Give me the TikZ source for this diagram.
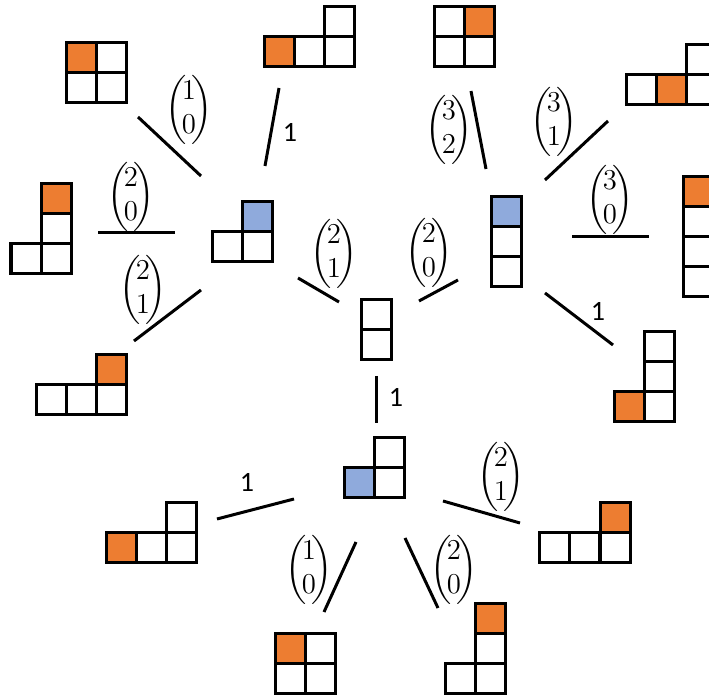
\documentclass[tikz,border=0pt]{standalone}
\usepackage{amsmath}
\usepackage{fontspec}
\newfontfamily\onefont{Carlito}
\definecolor{cellorange}{HTML}{ED7D31}
\definecolor{cellblue}{HTML}{8FAADC}

% one square of a shape, given by its top left corner
\newcommand{\sqcell}[3][white]{\draw[cell,fill=#1] (#2,#3) rectangle ++(30,30);}
% a binomial label
\newcommand{\bnm}[2]{$\biggl(\!\begin{array}{@{}c@{}}#1\\[1pt]#2\end{array}\!\biggr)$}

\begin{document}
\begin{tikzpicture}[x=0.5pt,y=-0.5pt,
    cell/.style={draw=black,line width=1.5pt,line join=miter},
    link/.style={line width=1.5pt},
    binom label/.style={font=\fontsize{14.5}{16}\selectfont,inner sep=0pt},
    one label/.style={font=\onefont\fontsize{14}{16}\selectfont,inner sep=0pt}]
    \clip (0,0) rectangle (709,699);

    % shapes
    \sqcell[cellorange]{66}{43} \sqcell{96}{43} \sqcell{66}{73} \sqcell{96}{73}
    \sqcell[cellorange]{264}{37} \sqcell{294}{37} \sqcell{324}{37} \sqcell{324}{7}
    \sqcell[cellorange]{41}{184} \sqcell{41}{214} \sqcell{11}{244} \sqcell{41}{244}
    \sqcell[cellblue]{242}{202} \sqcell{212}{232} \sqcell{242}{232}
    \sqcell[cellorange]{96}{355} \sqcell{36}{385} \sqcell{66}{385} \sqcell{96}{385}
    \sqcell[cellorange]{464}{7} \sqcell{434}{7} \sqcell{434}{37} \sqcell{464}{37}
    \sqcell{626}{75} \sqcell[cellorange]{656}{75} \sqcell{686}{75} \sqcell{686}{45}
    \sqcell[cellblue]{491}{197} \sqcell{491}{227} \sqcell{491}{257}
    \sqcell[cellorange]{683}{177} \sqcell{683}{207} \sqcell{683}{237} \sqcell{683}{267}
    \sqcell{644}{332} \sqcell{644}{362} \sqcell{644}{392} \sqcell[cellorange]{614}{392}
    \sqcell{361}{300} \sqcell{361}{330}
    \sqcell{374}{438} \sqcell[cellblue]{344}{468} \sqcell{374}{468}
    \sqcell[cellorange]{106}{533} \sqcell{136}{533} \sqcell{166}{533} \sqcell{166}{503}
    \sqcell{539}{533} \sqcell{569}{533} \sqcell{600}{533} \sqcell[cellorange]{600}{503}
    \sqcell[cellorange]{275}{634} \sqcell{305}{634} \sqcell{275}{664} \sqcell{305}{664}
    \sqcell[cellorange]{475}{604} \sqcell{475}{634} \sqcell{445}{664} \sqcell{475}{664}

    % links
    \foreach \n/\ax/\ay/\bx/\by in {l1/138/117/201/176, l2/279/88/265/166,
        l3/98/233/175/233, l4/201/290/134/341, l5/298/278/339/302,
        l6/419/301/458/280, l7/471/91/486/169, l8/545/180/608/121,
        l9/572/237/649/237, l10/545/293/613/345, l11/376/376/376/423,
        l12/217/519/294/499, l13/443/501/520/523, l14/356/542/324/612,
        l15/405/538/438/608}{
        \coordinate (\n a) at (\ax,\ay);
        \coordinate (\n b) at (\bx,\by);
        \draw[link] (\n a) -- (\n b);
    }

    % labels
    \node[binom label] (b1) at (189,110) {\bnm{1}{0}};
    \node[binom label] (b3) at (131,197) {\bnm{2}{0}};
    \node[binom label] (b4) at (143,290) {\bnm{2}{1}};
    \node[binom label] (b5) at (334,254) {\bnm{2}{1}};
    \node[binom label] (b6) at (429,253) {\bnm{2}{0}};
    \node[binom label] (b7) at (449,130) {\bnm{3}{2}};
    \node[binom label] (b8) at (554,122) {\bnm{3}{1}};
    \node[binom label] (b9) at (610,200) {\bnm{3}{0}};
    \node[binom label] (b13) at (501,477) {\bnm{2}{1}};
    \node[binom label] (b14) at (309,570) {\bnm{1}{0}};
    \node[binom label] (b15) at (454,570) {\bnm{2}{0}};
    \node[one label] (o2) at (290,132) {1};
    \node[one label] (o10) at (598,311) {1};
    \node[one label] (o11) at (396,397) {1};
    \node[one label] (o12) at (247,482) {1};
\end{tikzpicture}
\end{document}
